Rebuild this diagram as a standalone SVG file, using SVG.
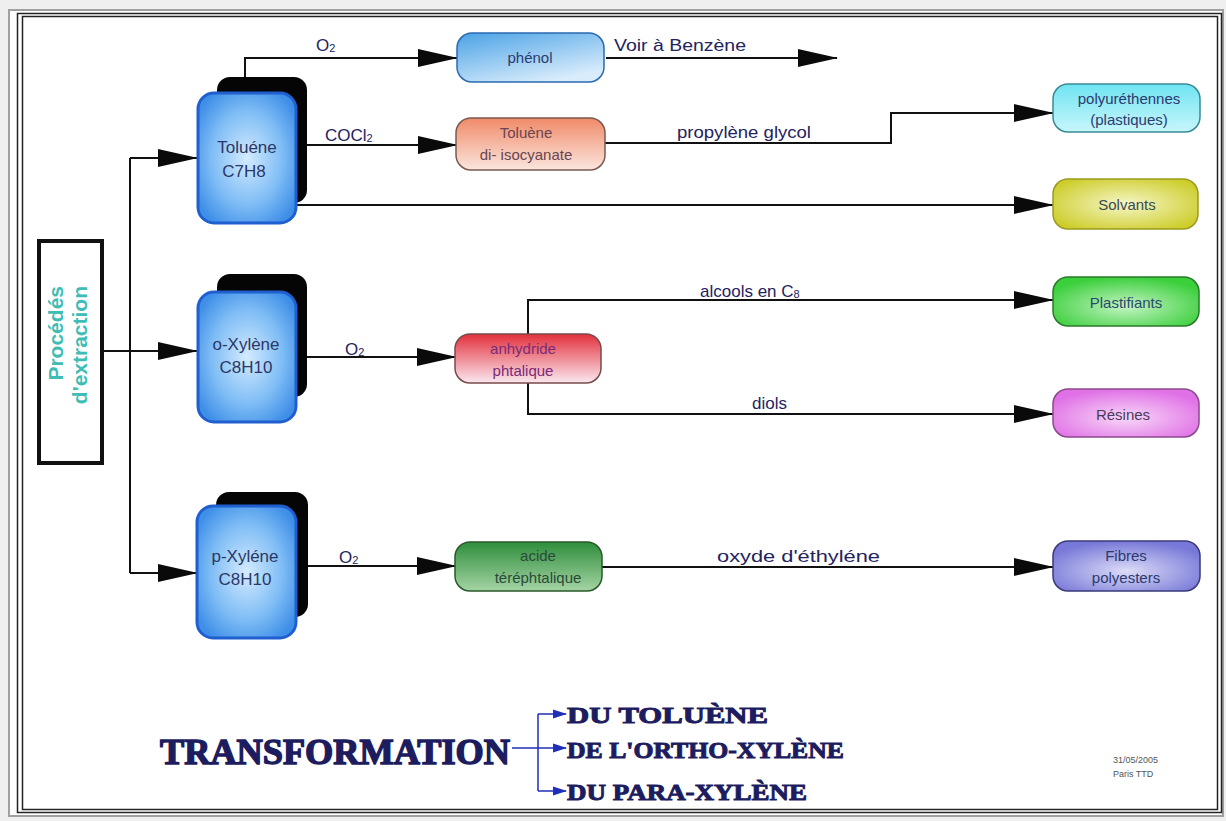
<svg xmlns="http://www.w3.org/2000/svg" width="1226" height="821" viewBox="0 0 1226 821">
<style>
.ln{fill:none;stroke:#111;stroke-width:2}
.lbl{font-family:"Liberation Sans",Arial,sans-serif;font-size:17px;fill:#23235e}
.nt{font-family:"Liberation Sans",Arial,sans-serif;font-size:15px;text-anchor:middle}
.ct{font-family:"Liberation Sans",Arial,sans-serif;font-size:17px;text-anchor:middle;fill:#2b3766}
.big{font-family:"Liberation Serif","Times New Roman",serif;font-weight:bold;fill:#1c1c5e;stroke:#1c1c5e}
.shadow{fill:#050505}
.chem{stroke:#1f5fd0;stroke-width:3;fill:url(#gBlue)}
.ext{font-family:"Liberation Sans",Arial,sans-serif;font-weight:bold;font-size:21px;fill:#3dbdb4;text-anchor:end}
</style>
<defs>
<marker id="arr" viewBox="0 0 40 20" markerWidth="40" markerHeight="20" refX="39" refY="10" orient="auto" markerUnits="userSpaceOnUse">
<path d="M0,1 L40,10 L0,19 Z" fill="#0a0a0a"/>
</marker>
<marker id="barr" viewBox="0 0 14 10" markerWidth="14" markerHeight="10" refX="13" refY="5" orient="auto" markerUnits="userSpaceOnUse">
<path d="M0,0.5 L14,5 L0,9.5 Z" fill="#1f2fb8"/>
</marker>
<radialGradient id="gBlue" cx="0.5" cy="0.5" r="0.6">
<stop offset="0" stop-color="#d4ebff"/><stop offset="0.6" stop-color="#7fbdf5"/><stop offset="1" stop-color="#3f8fe8"/>
</radialGradient>
<linearGradient id="gPhenol" x1="0" y1="0" x2="0.6" y2="1">
<stop offset="0" stop-color="#4aa2e6"/><stop offset="1" stop-color="#d8ecfb"/>
</linearGradient>
<linearGradient id="gTdi" x1="0" y1="0" x2="0" y2="1">
<stop offset="0" stop-color="#f08a68"/><stop offset="1" stop-color="#fbe6de"/>
</linearGradient>
<linearGradient id="gPu" x1="0" y1="0" x2="0" y2="1">
<stop offset="0" stop-color="#6fe4f2"/><stop offset="1" stop-color="#c8f6fb"/>
</linearGradient>
<radialGradient id="gSolv" cx="0.5" cy="0.5" r="0.6">
<stop offset="0" stop-color="#f6f6c8"/><stop offset="1" stop-color="#cdcd2c"/>
</radialGradient>
<linearGradient id="gAnh" x1="0" y1="0" x2="0" y2="1">
<stop offset="0" stop-color="#e2303c"/><stop offset="1" stop-color="#fbe8f0"/>
</linearGradient>
<radialGradient id="gPlas" cx="0.5" cy="0.6" r="0.6">
<stop offset="0" stop-color="#c4f4c4"/><stop offset="1" stop-color="#3ccf3c"/>
</radialGradient>
<radialGradient id="gRes" cx="0.5" cy="0.6" r="0.6">
<stop offset="0" stop-color="#f8d8f8"/><stop offset="1" stop-color="#e070e6"/>
</radialGradient>
<linearGradient id="gAcid" x1="0" y1="0" x2="0" y2="1">
<stop offset="0" stop-color="#2f8e3c"/><stop offset="1" stop-color="#a4d4a4"/>
</linearGradient>
<radialGradient id="gFib" cx="0.5" cy="0.6" r="0.6">
<stop offset="0" stop-color="#dcdcf8"/><stop offset="1" stop-color="#7878d8"/>
</radialGradient>
</defs>

<rect x="0" y="0" width="1226" height="821" fill="#efefef"/>
<rect x="9" y="10" width="1214" height="806" fill="#fff" stroke="#a0a0a0" stroke-width="2"/>
<rect x="17.5" y="13.5" width="1204" height="799" fill="none" stroke="#222" stroke-width="1.5"/>
<rect x="22.5" y="16.5" width="1195" height="793" fill="none" stroke="#222" stroke-width="1.5"/>

<g id="connectors">
<path class="ln" d="M103,351 H197" marker-end="url(#arr)"/>
<path class="ln" d="M130,158 V573"/>
<path class="ln" d="M130,158 H197" marker-end="url(#arr)"/>
<path class="ln" d="M130,573 H197" marker-end="url(#arr)"/>
<path class="ln" d="M245,78 V58 H457" marker-end="url(#arr)"/>
<path class="ln" d="M606,58 H837" marker-end="url(#arr)"/>
<path class="ln" d="M307,145 H457" marker-end="url(#arr)"/>
<path class="ln" d="M605,143 H891 V113 H1053" marker-end="url(#arr)"/>
<path class="ln" d="M296,205 H1053" marker-end="url(#arr)"/>
<path class="ln" d="M307,357 H456" marker-end="url(#arr)"/>
<path class="ln" d="M528,334 V300 H1053" marker-end="url(#arr)"/>
<path class="ln" d="M528,383 V414 H1053" marker-end="url(#arr)"/>
<path class="ln" d="M307,566 H456" marker-end="url(#arr)"/>
<path class="ln" d="M602,567 H1053" marker-end="url(#arr)"/>
<text class="lbl" x="316" y="51">O<tspan font-size="11" dy="1">2</tspan></text>
<text class="lbl" x="614" y="51" textLength="132" lengthAdjust="spacingAndGlyphs">Voir à Benzène</text>
<text class="lbl" x="325" y="141">COCl<tspan font-size="11" dy="1">2</tspan></text>
<text class="lbl" x="677" y="138" textLength="134" lengthAdjust="spacingAndGlyphs">propylène glycol</text>
<text class="lbl" x="345" y="355">O<tspan font-size="11" dy="1">2</tspan></text>
<text class="lbl" x="700" y="297">alcools en C<tspan font-size="11" dy="1">8</tspan></text>
<text class="lbl" x="752" y="409">diols</text>
<text class="lbl" x="339" y="563">O<tspan font-size="11" dy="1">2</tspan></text>
<text class="lbl" x="717" y="562" textLength="163" lengthAdjust="spacingAndGlyphs">oxyde d'éthyléne</text>
</g>

<g id="extraction">
<rect x="39" y="241" width="63" height="222" fill="#fff" stroke="#111" stroke-width="4"/>
<text class="ext" transform="translate(63,286) rotate(-90)">Procédés</text>
<text class="ext" transform="translate(87,286) rotate(-90)">d'extraction</text>
</g>

<g id="toluene">
<rect class="shadow" x="217" y="77" width="90" height="126" rx="13"/>
<rect class="chem" x="198" y="93" width="98" height="130" rx="16"/>
<text class="ct" x="247" y="153">Toluéne</text>
<text class="ct" x="244" y="177">C7H8</text>
</g>

<g id="oxylene">
<rect class="shadow" x="217" y="274" width="90" height="123" rx="13"/>
<rect class="chem" x="198" y="292" width="98" height="130" rx="16"/>
<text class="ct" x="246" y="350">o-Xylène</text>
<text class="ct" x="246" y="373">C8H10</text>
</g>

<g id="pxylene">
<rect class="shadow" x="216" y="492" width="92" height="125" rx="13"/>
<rect class="chem" x="197" y="506" width="99" height="132" rx="16"/>
<text class="ct" x="245" y="562">p-Xyléne</text>
<text class="ct" x="245" y="585">C8H10</text>
</g>

<g id="phenol">
<rect x="457" y="33" width="147" height="49" rx="15" fill="url(#gPhenol)" stroke="#2a6ab0" stroke-width="1.5"/>
<text class="nt" x="530" y="63" fill="#2b3a70">phénol</text>
</g>

<g id="tdi">
<rect x="456" y="118" width="149" height="52" rx="15" fill="url(#gTdi)" stroke="#7a5a50" stroke-width="1.5"/>
<text class="nt" x="526" y="138" fill="#6a4450" font-size="16">Toluène</text>
<text class="nt" x="526" y="160" fill="#6a4450" font-size="16">di- isocyanate</text>
</g>

<g id="polyurethennes">
<rect x="1053" y="84" width="147" height="48" rx="15" fill="url(#gPu)" stroke="#3a8a95" stroke-width="1.5"/>
<text class="nt" x="1129" y="104" fill="#2b3a70" font-size="16">polyuréthennes</text>
<text class="nt" x="1129" y="125" fill="#2b3a70" font-size="16">(plastiques)</text>
</g>

<g id="solvants">
<rect x="1053" y="179" width="145" height="50" rx="15" fill="url(#gSolv)" stroke="#9a9a20" stroke-width="1.5"/>
<text class="nt" x="1127" y="210" fill="#3a4a50" font-size="16">Solvants</text>
</g>

<g id="anhydride">
<rect x="455" y="334" width="146" height="49" rx="15" fill="url(#gAnh)" stroke="#7a4a4a" stroke-width="1.5"/>
<text class="nt" x="523" y="354" fill="#7a2a78" font-size="16">anhydride</text>
<text class="nt" x="523" y="376" fill="#7a2a78" font-size="16">phtalique</text>
</g>

<g id="plastifiants">
<rect x="1053" y="277" width="146" height="49" rx="15" fill="url(#gPlas)" stroke="#2a7a2a" stroke-width="1.5"/>
<text class="nt" x="1126" y="308" fill="#2a4a6a" font-size="16">Plastifiants</text>
</g>

<g id="resines">
<rect x="1053" y="389" width="146" height="48" rx="15" fill="url(#gRes)" stroke="#8a4a8a" stroke-width="1.5"/>
<text class="nt" x="1123" y="420" fill="#4a3a5a" font-size="16">Résines</text>
</g>

<g id="acide">
<rect x="455" y="542" width="147" height="49" rx="15" fill="url(#gAcid)" stroke="#2a5a2a" stroke-width="1.5"/>
<text class="nt" x="538" y="561" fill="#2a4a3a" font-size="15">acide</text>
<text class="nt" x="538" y="583" fill="#2a4a3a" font-size="15">téréphtalique</text>
</g>

<g id="fibres">
<rect x="1053" y="541" width="147" height="50" rx="15" fill="url(#gFib)" stroke="#3a3a7a" stroke-width="1.5"/>
<text class="nt" x="1126" y="561" fill="#2b3a70" font-size="16">Fibres</text>
<text class="nt" x="1126" y="583" fill="#2b3a70" font-size="16">polyesters</text>
</g>

<g id="title">
<text class="big" x="160" y="764" font-size="35" stroke-width="1.4" textLength="350" lengthAdjust="spacingAndGlyphs">TRANSFORMATION</text>
<path d="M512,748 H538 M538,714 V791" fill="none" stroke="#1f2fb8" stroke-width="1.5"/>
<path d="M538,714 H566" fill="none" stroke="#1f2fb8" stroke-width="1.5" marker-end="url(#barr)"/>
<path d="M538,748 H566" fill="none" stroke="#1f2fb8" stroke-width="1.5" marker-end="url(#barr)"/>
<path d="M538,791 H566" fill="none" stroke="#1f2fb8" stroke-width="1.5" marker-end="url(#barr)"/>
<text class="big" x="567" y="723" font-size="24" stroke-width="1" textLength="201" lengthAdjust="spacingAndGlyphs">DU TOLUÈNE</text>
<text class="big" x="567" y="758" font-size="24" stroke-width="1" textLength="277" lengthAdjust="spacingAndGlyphs">DE L'ORTHO-XYLÈNE</text>
<text class="big" x="567" y="800" font-size="24" stroke-width="1" textLength="240" lengthAdjust="spacingAndGlyphs">DU PARA-XYLÈNE</text>
</g>

<g id="date">
<text x="1113" y="763" font-family="Liberation Sans,Arial,sans-serif" font-size="9" fill="#555">31/05/2005</text>
<text x="1113" y="777" font-family="Liberation Sans,Arial,sans-serif" font-size="9" fill="#555">Paris  TTD</text>
</g>
</svg>
